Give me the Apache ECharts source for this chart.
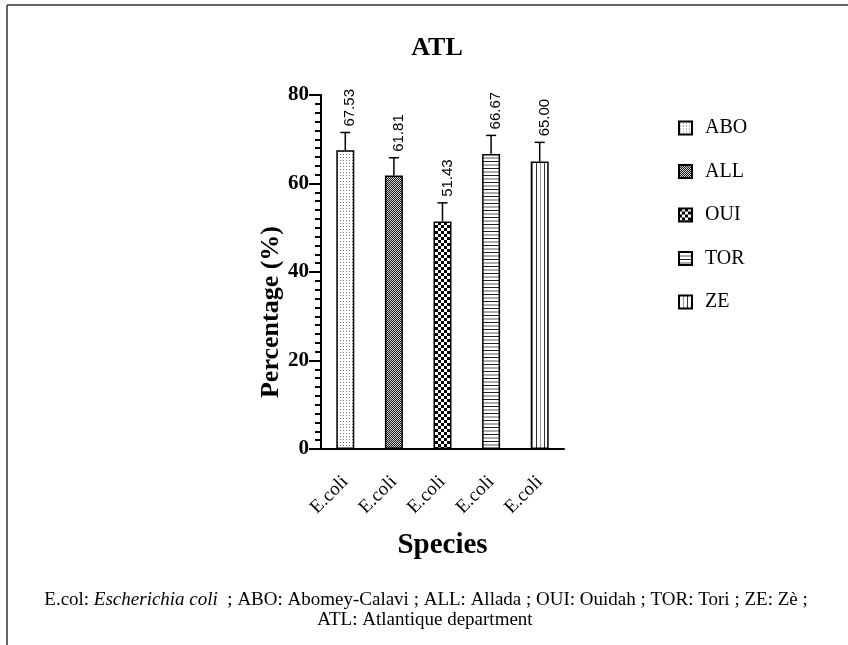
<!DOCTYPE html>
<html>
<head>
<meta charset="utf-8">
<script src="https://cdn.jsdelivr.net/npm/echarts@6/dist/echarts.min.js"></script>
<style>
  html, body { margin: 0; padding: 0; background: #fff; }
  #chart { width: 848px; height: 645px; }
</style>
</head>
<body>
<div id="chart"></div>
<script>
// data
var categories = ['E.coli', 'E.coli', 'E.coli', 'E.coli', 'E.coli'];
var sites = ['ABO', 'ALL', 'OUI', 'TOR', 'ZE'];
var percentages = [67.53, 61.81, 51.43, 66.67, 65.00];
var errors = [4.0, 4.0, 4.2, 4.2, 4.3];
var yTicks = { min: 0, max: 80, step: 20 };

// small canvas tiles used as hatch fills
function makePattern(w, h, draw) {
    var c = document.createElement('canvas');
    c.width = w; c.height = h;
    var ctx = c.getContext('2d');
    ctx.fillStyle = '#fff';
    ctx.fillRect(0, 0, w, h);
    draw(ctx);
    return { image: c, repeat: 'repeat' };
}
var patterns = [
    makePattern(3, 3, function (ctx) { ctx.fillStyle = '#777'; ctx.fillRect(1, 1, 1, 1); }),
    makePattern(2, 2, function (ctx) {
        ctx.fillStyle = '#222'; ctx.fillRect(0, 0, 2, 2);
        ctx.fillStyle = '#ccc'; ctx.fillRect(0, 0, 1, 1); ctx.fillRect(1, 1, 1, 1);
    }),
    makePattern(6, 6, function (ctx) {
        ctx.fillStyle = '#000'; ctx.fillRect(0, 0, 3, 3); ctx.fillRect(3, 3, 3, 3);
    }),
    makePattern(1, 7, function (ctx) {
        ctx.fillStyle = '#222'; ctx.fillRect(0, 0, 1, 1);
        ctx.fillStyle = '#aaa'; ctx.fillRect(0, 3, 1, 2);
    }),
    makePattern(8, 1, function (ctx) {
        ctx.fillStyle = '#333'; ctx.fillRect(0, 0, 1, 1);
        ctx.fillStyle = '#999'; ctx.fillRect(4, 0, 1, 1);
    })
];

var serif = '"Liberation Serif", "Times New Roman", serif';
var sans = '"Liberation Sans", Arial, sans-serif';

var chart = echarts.init(document.getElementById('chart'));

var barSeries = sites.map(function (name, i) {
    return {
        name: name,
        type: 'bar',
        barWidth: 18,
        barGap: '-100%',
        itemStyle: { color: patterns[i], borderColor: '#000', borderWidth: 1.5 },
        data: percentages.map(function (v, j) { return j === i ? v : '-'; })
    };
});

function renderError(params, api) {
    var idx = api.value(0);
    var v = api.value(1);
    var e = api.value(2);
    var base = api.coord([idx, v]);
    var top = api.coord([idx, v + e]);
    var ls = { stroke: '#000', lineWidth: 1.5 };
    return {
        type: 'group',
        children: [
            { type: 'line', shape: { x1: base[0], y1: base[1], x2: top[0], y2: top[1] }, style: ls },
            { type: 'line', shape: { x1: top[0] - 5, y1: top[1], x2: top[0] + 5, y2: top[1] }, style: ls },
            {
                type: 'text', x: top[0] + 5, y: top[1] - 6, rotation: Math.PI / 2,
                style: { text: v.toFixed(2), font: '15px ' + sans, fill: '#000', align: 'left', verticalAlign: 'middle' }
            }
        ]
    };
}

var option = {
    backgroundColor: '#fff',
    animation: false,
    title: {
        text: 'ATL',
        left: 432,
        top: 30,
        textAlign: 'center',
        textStyle: { fontFamily: serif, fontSize: 26, fontWeight: 'bold', color: '#000' }
    },
    legend: {
        data: sites,
        orient: 'vertical',
        left: 673,
        top: 113,
        itemWidth: 13,
        itemHeight: 13,
        itemGap: 23.5,
        icon: 'rect',
        textStyle: { fontFamily: serif, fontSize: 20, color: '#000', padding: [0, 0, 0, 8] }
    },
    grid: { left: 321, right: 284, top: 95, bottom: 196, containLabel: false },
    xAxis: {
        type: 'category',
        data: categories,
        name: 'Species',
        nameLocation: 'middle',
        nameGap: 82,
        nameTextStyle: { fontFamily: serif, fontSize: 29, fontWeight: 'bold', color: '#000' },
        axisLine: { lineStyle: { color: '#000', width: 2 } },
        axisTick: { alignWithLabel: true, length: 12, lineStyle: { color: '#000', width: 2 } },
        axisLabel: { rotate: 45, margin: 30, fontFamily: serif, fontSize: 19, color: '#000' }
    },
    yAxis: {
        type: 'value',
        min: yTicks.min,
        max: yTicks.max,
        interval: yTicks.step,
        name: 'Percentage (%)',
        nameLocation: 'middle',
        nameGap: 37,
        nameTextStyle: { fontFamily: serif, fontSize: 26, fontWeight: 'bold', color: '#000', padding: [0, 80, 0, 0] },
        axisLine: { show: true, lineStyle: { color: '#000', width: 2 } },
        axisTick: { show: true, length: 12, lineStyle: { color: '#000', width: 2 } },
        minorTick: { show: true, splitNumber: 10, length: 6, lineStyle: { color: '#000', width: 2 } },
        splitLine: { show: false },
        axisLabel: { margin: 12, fontFamily: serif, fontSize: 21, fontWeight: 'bold', color: '#000' }
    },
    series: barSeries.concat([{
        type: 'custom',
        name: 'error',
        renderItem: renderError,
        encode: { x: 0, y: 1 },
        z: 5,
        data: percentages.map(function (v, i) { return [i, v, errors[i]]; })
    }]),
    graphic: [
        { type: 'line', shape: { x1: 7, y1: 5, x2: 848, y2: 5 }, style: { stroke: '#333', lineWidth: 1.5 } },
        { type: 'line', shape: { x1: 7, y1: 5, x2: 7, y2: 645 }, style: { stroke: '#333', lineWidth: 1.5 } },
        {
            type: 'text', x: 426, y: 600,
            style: {
                text: '{n|E.col: }{i|Escherichia coli}{n|  ; ABO: Abomey-Calavi ; ALL: Allada ; OUI: Ouidah ; TOR: Tori ; ZE: Zè ;}',
                align: 'center', verticalAlign: 'middle',
                rich: {
                    n: { fontFamily: serif, fontSize: 19, fill: '#000', color: '#000' },
                    i: { fontFamily: serif, fontSize: 19, fontStyle: 'italic', fill: '#000', color: '#000' }
                }
            }
        },
        {
            type: 'text', x: 425, y: 620,
            style: { text: 'ATL: Atlantique department', font: '19px ' + serif, fill: '#000', align: 'center', verticalAlign: 'middle' }
        }
    ]
};

chart.setOption(option);
</script>
</body>
</html>
